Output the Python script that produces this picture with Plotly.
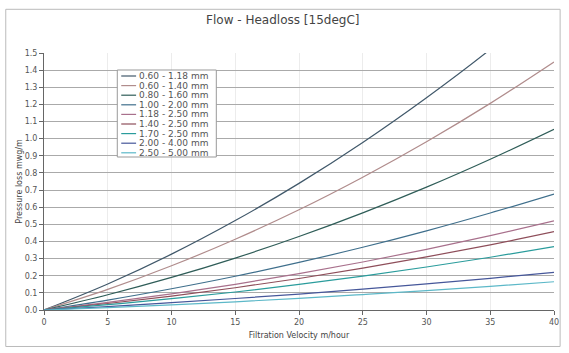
import plotly.graph_objects as go

velocity = [0, 5, 10, 15, 20, 25, 30, 35, 40]
series_names = [
    "0.60 - 1.18 mm", "0.60 - 1.40 mm", "0.80 - 1.60 mm", "1.00 - 2.00 mm",
    "1.18 - 2.50 mm", "1.40 - 2.50 mm", "1.70 - 2.50 mm", "2.00 - 4.00 mm",
    "2.50 - 5.00 mm",
]
s1 = [0, 0.152, 0.326, 0.522, 0.739, 0.978, 1.239, 1.521, 1.830]
s2 = [0, 0.120, 0.258, 0.413, 0.585, 0.775, 0.982, 1.206, 1.448]
s3 = [0, 0.089, 0.190, 0.303, 0.429, 0.567, 0.717, 0.880, 1.055]
s4 = [0, 0.058, 0.124, 0.197, 0.278, 0.366, 0.462, 0.566, 0.677]
s5 = [0, 0.044, 0.094, 0.150, 0.212, 0.280, 0.354, 0.434, 0.520]
s6 = [0, 0.038, 0.081, 0.130, 0.184, 0.244, 0.310, 0.380, 0.457]
s7 = [0, 0.031, 0.066, 0.105, 0.149, 0.198, 0.251, 0.308, 0.370]
s8 = [0, 0.020, 0.043, 0.067, 0.093, 0.122, 0.153, 0.185, 0.220]
s9 = [0, 0.014, 0.030, 0.048, 0.068, 0.090, 0.113, 0.138, 0.165]
series_values = [s1, s2, s3, s4, s5, s6, s7, s8, s9]
colors = ["#40586a", "#b08c8c", "#2f5d58", "#3f6f8c", "#a8708c",
          "#8e4e5a", "#2a9c9c", "#46579a", "#5cb8c8"]
y_ticks = [round(i * 0.1, 1) for i in range(16)]
x_ticks = [0, 5, 10, 15, 20, 25, 30, 35, 40]

fig = go.Figure()
for name, vals, col in zip(series_names, series_values, colors):
    fig.add_trace(go.Scatter(x=velocity, y=vals, name=name, mode="lines",
                             line=dict(color=col, width=1.2, shape="spline")))

font_family = "DejaVu Sans"
fig.update_layout(
    width=569, height=353,
    margin=dict(l=44, r=10, t=53, b=43),
    paper_bgcolor="white", plot_bgcolor="white",
    title=dict(text="Flow - Headloss [15degC]", x=0.497, xanchor="center",
               y=0.945, yanchor="middle",
               font=dict(family=font_family, size=12, color="#444")),
    font=dict(family=font_family, size=8, color="#555"),
    showlegend=False,
    xaxis=dict(range=[0, 40], tickvals=x_ticks, showgrid=True,
               gridcolor="#ececec", gridwidth=1, zeroline=False,
               showline=True, linecolor="#666", linewidth=1,
               ticks="outside", ticklen=4, tickcolor="#666",
               title=dict(text="Filtration Velocity m/hour", standoff=6,
                          font=dict(size=8, color="#444"))),
    yaxis=dict(range=[0, 1.5], tickvals=y_ticks, tickformat=".1f",
               showgrid=True, gridcolor="#aaaaaa", gridwidth=1,
               zeroline=False, showline=True, linecolor="#666",
               linewidth=1, ticks="outside", ticklen=4, tickcolor="#666",
               title=dict(text="Pressure loss mwg/m", standoff=0,
                          font=dict(size=8, color="#444"))),
)

# compact legend box (plot-area paper coordinates)
plot_w, plot_h = 515.0, 257.0
box_left, box_right, box_top, box_bottom = 74.0, 174.0, 17.0, 104.0  # px from plot top-left
fig.add_shape(type="rect", xref="paper", yref="paper",
              x0=box_left / plot_w, x1=box_right / plot_w,
              y0=1 - box_bottom / plot_h, y1=1 - box_top / plot_h,
              line=dict(color="#999", width=1), fillcolor="white", layer="above")
row_gap = 9.6
for i, (name, col) in enumerate(zip(series_names, colors)):
    yy = 1 - (box_top + 6 + row_gap * i) / plot_h
    fig.add_shape(type="line", xref="paper", yref="paper",
                  x0=(box_left + 4) / plot_w, x1=(box_left + 19) / plot_w,
                  y0=yy, y1=yy, line=dict(color=col, width=1.2), layer="above")
    fig.add_annotation(xref="paper", yref="paper", x=(box_left + 20) / plot_w,
                       y=yy, text=name, showarrow=False, xanchor="left",
                       yanchor="middle",
                       font=dict(family=font_family, size=9, color="#555"))

fig.add_shape(type="rect", xref="paper", yref="paper",
              x0=-0.075, x1=1.012, y0=-0.142, y1=1.17,
              line=dict(color="#bbb", width=1))
fig.write_html("out.html")
